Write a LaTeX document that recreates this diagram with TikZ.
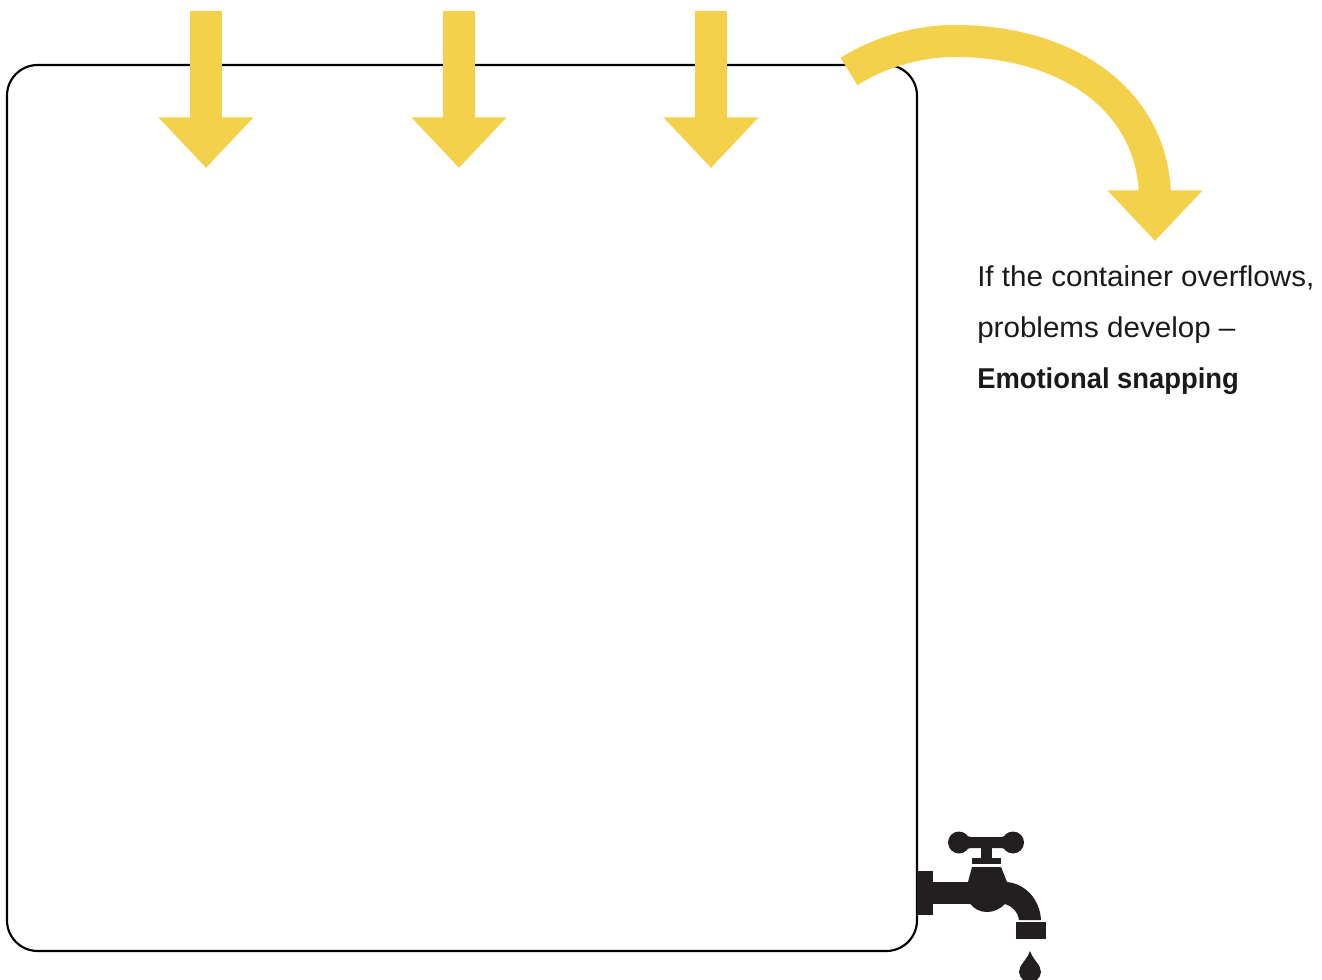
\documentclass[tikz,border=0pt]{standalone}
\usepackage{fontspec}
\setmainfont{Liberation Sans}[FakeStretch=1.032,BoldFeatures={FakeStretch=0.955}]
\usepackage{tikz}
\usetikzlibrary{arrows.meta,positioning}
\definecolor{flowyellow}{HTML}{F4D14A}
\definecolor{tapdark}{HTML}{231F20}
\definecolor{textdark}{HTML}{1A1A1A}

\begin{document}
\begin{tikzpicture}[
    x=0.75pt,
    y=-0.75pt,
    every node/.style={font=\fontsize{21.5}{38.25}\selectfont, text=textdark},
    container/.style={
        draw=black,
        line width=1.6pt,
        rounded corners=23pt,
        inner sep=0pt,
        outer sep=0pt,
        minimum width=682.5pt,
        minimum height=664.5pt
    },
    flow/.style={
        draw=flowyellow,
        line width=24pt,
        -{Triangle[length=38pt,width=69pt]}
    },
    tap/.style={fill=tapdark}
]
\useasboundingbox (0,0) rectangle (1322,980);

% Container
\node[container] (box) at (462,508) {};

% Inflows
\foreach \x/\name in {206/one,459/two,711/three} {
    \coordinate (\name top) at (\x,11);
    \coordinate (\name tip) at (\x,168);
    \draw[flow] (\name top) -- (\name tip);
}

% Overflow
\coordinate (over start) at (849,71.5);
\coordinate (over peak) at (955,41);
\coordinate (over tip) at (1155,241);
\draw[flow] (over start) .. controls (880,52) and (918,41) .. (over peak)
    .. controls (1065,41) and (1152,98) .. (1155,195) -- (over tip);

% Text
\node[anchor=north west, align=left, inner sep=0pt] (note) at (977,265)
{If the container overflows,\\
problems develop --\\
\textbf{Emotional snapping}};

% Tap
\fill[tap] (917,871) rectangle (933,915);
\fill[tap] (933,882) rectangle (975,903.5);
\fill[tap] (972,867) -- (1001,867) -- (1007,882)
    .. controls (1026,884) and (1040,900) .. (1041,920)
    -- (1019,920)
    .. controls (1018,912) and (1012,906) .. (1005,904)
    .. controls (1000,909) and (994,912) .. (987,912)
    .. controls (980,912) and (974,909) .. (970,903.5)
    -- (968,882) -- cycle;
\fill[tap] (972,858) rectangle (1001,864);
\fill[tap] (981,847) rectangle (992,858);
\fill[tap] (964,833) .. controls (966,836) and (968,837) .. (971,837)
    -- (1001,837) .. controls (1004,837) and (1006,836) .. (1008,833)
    -- (1008,852) .. controls (1006,849) and (1004,848) .. (1001,848)
    -- (971,848) .. controls (968,848) and (966,849) .. (964,852) -- cycle;
\fill[tap] (959,842.5) circle[radius=11];
\fill[tap] (1013,842.5) circle[radius=11];
\fill[tap] (1016,922) rectangle (1046,939);

% Drop
\fill[tap] (1030,951) .. controls (1027,960) and (1019,965) .. (1019,972)
    .. controls (1019,975) and (1021,978) .. (1023,980)
    -- (1037,980)
    .. controls (1039,978) and (1041,975) .. (1041,972)
    .. controls (1041,965) and (1033,960) .. (1030,951) -- cycle;

\end{tikzpicture}
\end{document}
